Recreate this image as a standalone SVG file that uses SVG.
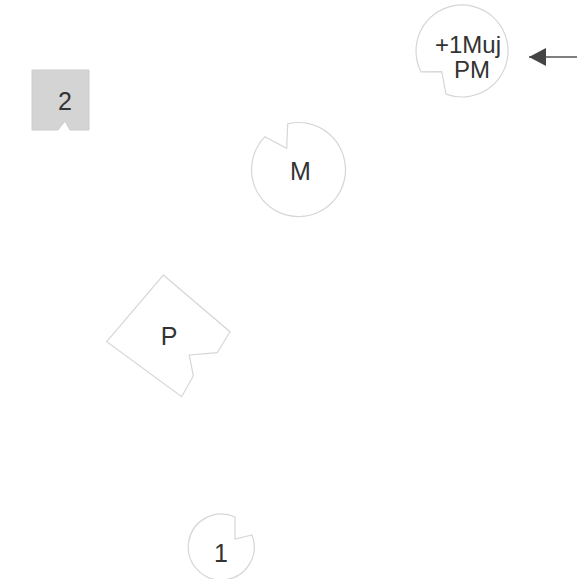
<svg xmlns="http://www.w3.org/2000/svg" width="577" height="579" viewBox="0 0 577 579">
<style>
.shape{fill:#ffffff;stroke:#d6d6d6;stroke-width:1.2}
.gray{fill:#d4d4d4;stroke:#cccccc;stroke-width:1}
.lbl{font-family:"Liberation Sans",Arial,sans-serif;font-size:25px;fill:#333333;text-anchor:middle}
.sm{font-size:24px}
.conn{stroke:#555555;stroke-width:1.6;fill:none}
</style>
<defs>
<marker id="arrow" markerWidth="18" markerHeight="18" refX="17" refY="9" orient="auto" markerUnits="userSpaceOnUse">
<path d="M17,9 L0,0 L0,18 Z" fill="#444444"/>
</marker>
</defs>
<rect width="577" height="579" fill="#ffffff"/>
<g id="connectors">
<line class="conn" x1="577" y1="57" x2="529" y2="57" marker-end="url(#arrow)"/>
</g>
<g id="node-pm">
<path class="shape" d="M421,71.8 A46,46 0 1 1 446,94.1 L441.7,71.7 Z"/>
<text class="lbl sm" x="468" y="53">+1Muj</text>
<text class="lbl sm" x="472" y="78">PM</text>
</g>
<g id="node-2">
<path class="gray" d="M32,70 L89,70 L89,130 L70,130 L65,121 L58,130 L32,130 Z"/>
<text class="lbl" x="65" y="110">2</text>
</g>
<g id="node-m">
<path class="shape" d="M287.7,123.8 A47,47 0 1 1 264.8,136.8 L286.7,148.3 Z"/>
<text class="lbl" x="300.5" y="180">M</text>
</g>
<g id="node-p">
<path class="shape" d="M163.3,275 L230,331.7 L217.3,352.7 L189.3,355 L193.3,376 L181.7,396.7 L106.7,341.7 Z"/>
<text class="lbl" x="169" y="345">P</text>
</g>
<g id="node-1">
<path class="shape" d="M252,535 A33,33 0 1 1 235,517 L235,539 Z"/>
<text class="lbl" x="221" y="562">1</text>
</g>
</svg>
